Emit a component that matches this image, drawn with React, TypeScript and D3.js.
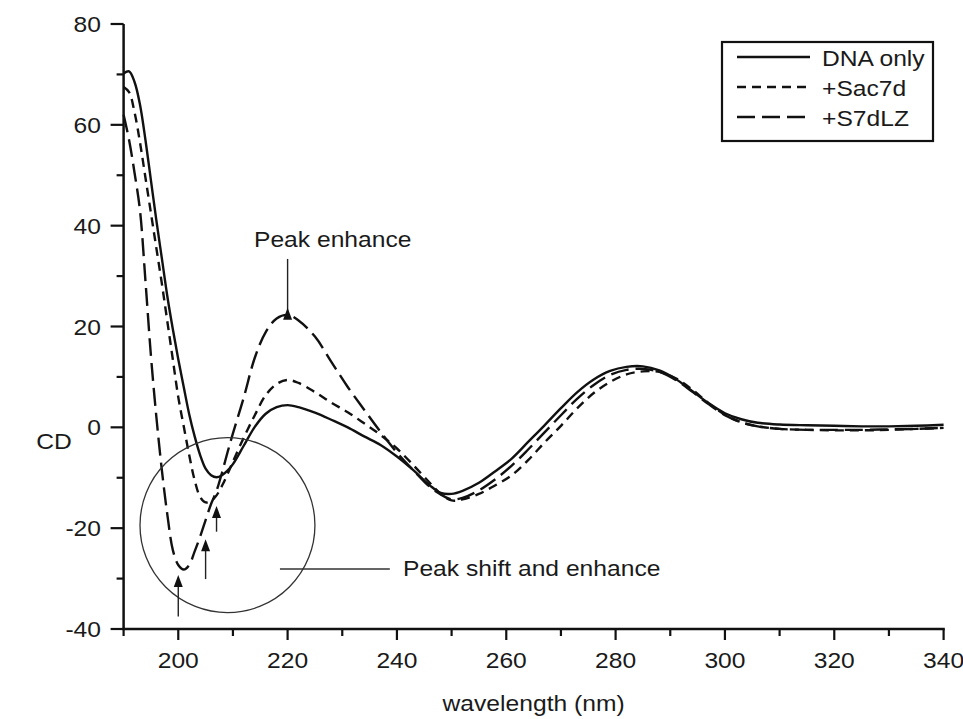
import { scaleLinear, line, curveCatmullRom, range } from 'd3'

const width = 963
const height = 719

const margin = { top: 24, right: 19.4, bottom: 90, left: 123.6 }

const wavelengths = [
  190, 191, 192, 193, 194, 195, 196, 197, 198, 199, 200, 201, 202, 203, 204, 205, 206, 207, 208, 209, 210,
  212, 214, 216, 218, 220, 222, 225, 228, 231, 234, 237, 240, 243, 246, 248, 250, 252, 255, 258, 261, 264,
  267, 270, 273, 276, 279, 282, 285, 288, 291, 294, 297, 300, 303, 306, 310, 315, 320, 325, 330, 335, 340
]

const dnaOnly = [
  70.2, 70.6, 68.5, 64.0, 57.0, 49.0, 41.0, 33.5, 26.0, 19.5, 13.5, 8.0, 2.6, -1.8, -5.5, -8.2, -9.5, -9.9, -9.5, -8.6, -7.3,
  -3.6, 0.1, 2.7, 4.0, 4.4, 4.0, 2.9, 1.5, 0.0, -1.8, -3.5, -5.8, -8.5, -11.5, -13.0, -13.2, -12.6, -11.0, -8.7, -6.2, -2.9,
  0.4, 3.8, 7.0, 9.5, 11.2, 12.0, 12.1, 11.3, 9.6, 7.2, 4.8, 2.8, 1.6, 0.9, 0.55, 0.4, 0.3, 0.2, 0.2, 0.3, 0.5
]

const sac7d = [
  67.5, 66.5, 62.5, 56.5, 49.5, 42.5, 35.5, 28.5, 21.0, 13.5, 6.0, 0.2, -5.5, -10.5, -13.8, -14.9, -14.6, -13.5, -11.6, -9.3, -6.8,
  -2.0, 2.4, 6.4, 8.6, 9.4, 8.8, 7.0, 4.9, 3.0, 0.8, -1.5, -4.2, -7.5, -11.0, -13.2, -14.5, -14.3, -13.2, -11.5, -9.5, -6.5,
  -3.0, 0.3, 3.8, 6.8, 9.0, 10.5, 11.1, 11.0, 9.7, 7.5, 4.8, 2.5, 1.0, 0.2, -0.3, -0.5, -0.6, -0.6, -0.5, -0.3, -0.1
]

const s7dlz = [
  62.0, 57.0, 50.5, 43.0, 29.0, 14.2, 2.0, -8.5, -17.3, -24.3, -27.3, -28.2, -27.3, -24.6, -21.7, -18.4, -15.2, -12.6, -9.0, -5.0, -1.2,
  6.0, 13.8, 18.9, 21.6, 22.3, 21.2, 18.0, 13.0, 8.0, 3.5, -0.9, -5.0, -8.5, -11.8, -13.3, -14.3, -14.0, -12.5, -10.3, -7.6, -4.4,
  -1.0, 2.4, 5.7, 8.4, 10.4, 11.4, 11.6, 11.0, 9.4, 7.1, 4.6, 2.4, 1.0, 0.2, -0.3, -0.5, -0.5, -0.5, -0.4, -0.3, -0.1
]

const seriesNames = ['DNA only', '+Sac7d', '+S7dLZ']
const seriesDash = ['none', '9,6', '18,7']

const xTicks = [200, 220, 240, 260, 280, 300, 320, 340]
const yTicks = [-40, -20, 0, 20, 40, 60, 80]

// annotation arrows: [wavelength, from, to]
const arrows = [
  [220, 33.4, 23.7],
  [200, -37.5, -29.3],
  [205, -30.1, -22.2],
  [207, -20.7, -15.6]
]

const font = '"Liberation Sans", Arial, sans-serif'
const sx = 1.12

function T({ x, y, anchor = 'start', children }) {
  return (
    <text
      transform={`translate(${x},${y}) scale(${sx},1)`}
      textAnchor={anchor}
      fontFamily={font}
      fontSize={22}
      fill="#1a1a1a"
    >{children}</text>
  )
}

function App() {
  const xScale = scaleLinear()
    .domain([190, 340])
    .range([margin.left, width - margin.right])

  const yScale = scaleLinear()
    .domain([-40, 80])
    .range([height - margin.bottom, margin.top])

  const series = [dnaOnly, sac7d, s7dlz]

  const path = line()
    .x((d, i) => xScale(wavelengths[i]))
    .y(d => yScale(d))
    .curve(curveCatmullRom.alpha(0.5))

  const x0 = xScale(190)
  const y0 = yScale(-40)

  const circleR = xScale(225) - xScale(209)

  return (
    <svg width={width} height={height} style={{ position: 'absolute', left: 0, top: 0, background: '#fff' }}>
      {/* axes */}
      <line x1={x0} x2={x0} y1={yScale(80)} y2={y0} stroke="#111" strokeWidth={2.5} />
      <line x1={x0 - 1.2} x2={xScale(340) + 1.2} y1={y0} y2={y0} stroke="#111" strokeWidth={2.5} />

      {range(-40, 81, 10).map(v => (
        <line key={'yt' + v} x1={x0} x2={x0 - (v % 20 === 0 ? 13 : 7)} y1={yScale(v)} y2={yScale(v)}
          stroke="#111" strokeWidth={2.2} />
      ))}
      {yTicks.map(v => (
        <T key={'yl' + v} x={101} y={yScale(v) + 8} anchor="end">{v}</T>
      ))}

      {range(190, 341, 10).map(v => (
        <line key={'xt' + v} x1={xScale(v)} x2={xScale(v)} y1={y0} y2={y0 + (v % 20 === 0 ? 11 : 7)}
          stroke="#111" strokeWidth={2.2} />
      ))}
      {xTicks.map(v => (
        <T key={'xl' + v} x={xScale(v)} y={668} anchor="middle">{v}</T>
      ))}

      <T x={54} y={449} anchor="middle">CD</T>
      <T x={(xScale(190) + xScale(340)) / 2} y={711} anchor="middle">wavelength (nm)</T>

      {/* curves */}
      {series.map((s, i) => (
        <path key={seriesNames[i]} d={path(s)} fill="none" stroke="#111" strokeWidth={2.4}
          strokeDasharray={seriesDash[i]} />
      ))}

      {/* annotations */}
      <circle cx={xScale(209)} cy={yScale(-19.4)} r={circleR} fill="none" stroke="#333" strokeWidth={1.3} />
      <line x1={xScale(218.6)} x2={xScale(238.7)} y1={yScale(-28.1)} y2={yScale(-28.1)} stroke="#333" strokeWidth={1.4} />
      <T x={403} y={576}>Peak shift and enhance</T>
      <T x={254} y={247}>Peak enhance</T>

      {arrows.map(([w, a, b], i) => {
        const x = xScale(w)
        const ya = yScale(a)
        const yb = yScale(b)
        return (
          <g key={'ar' + i}>
            <line x1={x} x2={x} y1={ya} y2={yb + 8} stroke="#222" strokeWidth={1.4} />
            <path d={`M${x},${yb} L${x - 4.5},${yb + 12} L${x + 4.5},${yb + 12} Z`} fill="#111" />
          </g>
        )
      })}

      {/* legend */}
      <rect x={722} y={42} width={211} height={99} fill="#fff" stroke="#111" strokeWidth={2.2} />
      {seriesNames.map((n, i) => (
        <g key={'lg' + n}>
          <line x1={737} x2={810} y1={57 + i * 30} y2={57 + i * 30} stroke="#111" strokeWidth={2.4}
            strokeDasharray={seriesDash[i]} />
          <T x={822} y={66 + i * 30}>{n}</T>
        </g>
      ))}
    </svg>
  )
}

export default App
